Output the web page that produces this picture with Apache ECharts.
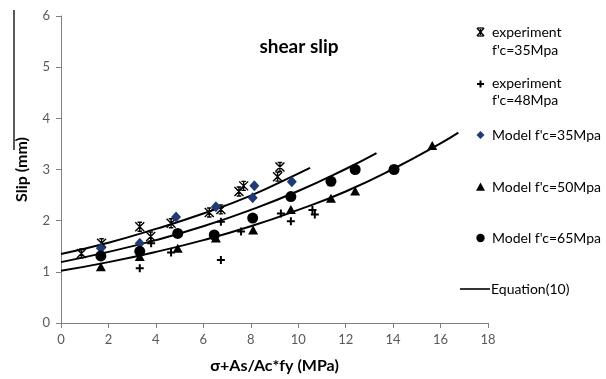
<!DOCTYPE html>
<html>
<head>
<meta charset="utf-8">
<script src="https://cdn.jsdelivr.net/npm/echarts@6/dist/echarts.min.js"></script>
<style>
  html, body { margin: 0; padding: 0; background: #fff; }
  #chart { width: 606px; height: 379px; }
</style>
</head>
<body>
<div id="chart"></div>
<script>
// Measured slip values: [stress term (MPa), slip (mm)]
const expF35 = [[0.86,1.36],[1.71,1.56],[3.32,1.88],[3.78,1.69],[4.64,1.95],[6.25,2.16],[6.74,2.22],[7.5,2.57],[7.7,2.68],[9.13,2.86],[9.23,3.05]];
const expF48 = [[3.32,1.07],[3.8,1.56],[4.64,1.38],[6.74,1.98],[6.74,1.23],[7.59,1.79],[9.27,2.14],[9.69,1.99],[10.6,2.21],[10.7,2.12]];

// Model predictions
const modelF35 = [[1.68,1.46],[3.32,1.56],[4.85,2.07],[6.53,2.27],[8.08,2.45],[8.15,2.68],[9.73,2.76]];
const modelF50 = [[1.68,1.10],[3.32,1.30],[4.92,1.46],[6.53,1.66],[8.1,1.82],[9.69,2.22],[11.38,2.44],[12.4,2.58],[15.65,3.47]];
const modelF65 = [[1.68,1.31],[3.32,1.40],[4.92,1.75],[6.46,1.72],[8.08,2.05],[9.69,2.47],[11.38,2.77],[12.4,3.0],[14.04,3.0]];

// Equation (10) curves, one per concrete strength
const eqCurveA = [[0,1.35],[2,1.57],[4,1.84],[6,2.14],[8,2.49],[10,2.92],[10.5,3.03]];
const eqCurveB = [[0,1.19],[2,1.39],[4,1.62],[6,1.89],[8,2.21],[10,2.58],[12,3.01],[13.3,3.32]];
const eqCurveC = [[0,1.02],[2,1.19],[4,1.39],[6,1.62],[8,1.89],[10,2.21],[12,2.57],[14,3.01],[16,3.51],[16.75,3.72]];

// Axis ranges / ticks
const xMin = 0, xMax = 18, xStep = 2;
const yMin = 0, yMax = 6, yStep = 1;

const chartTitle = 'shear slip';
const xName = 'σ+As/Ac*fy (MPa)';
const yName = 'Slip (mm)';
const legendLabels = [
  ['experiment', "f'c=35Mpa"],
  ['experiment', "f'c=48Mpa"],
  ["Model f'c=35Mpa"],
  ["Model f'c=50Mpa"],
  ["Model f'c=65Mpa"],
  ['Equation(10)']
];

const FONT = 'Lato, "Open Sans", sans-serif';
const STAR = 'path://M0,0L10,10M10,0L0,10M5,0L5,10M2.5,0L7.5,0M2.5,10L7.5,10';
const CROSS = 'path://M3,0H5V3H8V5H5V8H3V5H0V3H3Z';
const NAVY = '#1f3b73';

function curve(name, data) {
  return {
    name: name, type: 'line', data: data, smooth: true, symbol: 'none',
    lineStyle: { color: '#000', width: 2 }, z: 3, silent: true
  };
}

const chart = echarts.init(document.getElementById('chart'), null, { renderer: 'canvas' });

// legend drawn on the right, aligned as in the report figure
const lgX = 480.5, lgTextX = 492;
const lgText = (x, y, s) => ({
  type: 'text', x: x, y: y,
  style: { text: s, fill: '#000', font: '14px ' + FONT, textVerticalAlign: 'middle', verticalAlign: 'middle' }
});
const seg = (x1, y1, x2, y2, w) => ({
  type: 'line', shape: { x1: x1, y1: y1, x2: x2, y2: y2 }, style: { stroke: '#000', lineWidth: w }
});
const legendGraphics = [
  seg(lgX - 3.5, 28, lgX + 3.5, 36, 1.5), seg(lgX + 3.5, 28, lgX - 3.5, 36, 1.5),
  seg(lgX, 29, lgX, 35, 1.2), seg(lgX - 3, 28, lgX + 3, 28, 1.3), seg(lgX - 3, 36, lgX + 3, 36, 1.3),
  lgText(lgTextX, 32, legendLabels[0][0]), lgText(lgTextX, 50, legendLabels[0][1]),
  { type: 'polygon', shape: { points: [[-1,-3.5],[1,-3.5],[1,-1],[3.5,-1],[3.5,1],[1,1],[1,3.5],[-1,3.5],[-1,1],[-3.5,1],[-3.5,-1],[-1,-1]] },
    x: lgX, y: 84, style: { fill: '#000' } },
  lgText(lgTextX, 83, legendLabels[1][0]), lgText(lgTextX, 100, legendLabels[1][1]),
  { type: 'polygon', shape: { points: [[0,-4],[4,0],[0,4],[-4,0]] }, x: lgX, y: 135, style: { fill: NAVY } },
  lgText(lgTextX, 135, legendLabels[2][0]),
  { type: 'polygon', shape: { points: [[0,-4.5],[4.5,3.8],[-4.5,3.8]] }, x: lgX, y: 187, style: { fill: '#000' } },
  lgText(lgTextX, 187, legendLabels[3][0]),
  { type: 'circle', shape: { cx: 0, cy: 0, r: 4.2 }, x: lgX, y: 238, style: { fill: '#000' } },
  lgText(lgTextX, 238, legendLabels[4][0]),
  seg(460, 289, 490, 289, 1.6),
  lgText(491, 289, legendLabels[5][0]),
  // stray rule at the left edge of the figure
  seg(14, 10, 14, 150, 1.3)
];

chart.setOption({
  animation: false,
  backgroundColor: '#fff',
  title: {
    text: chartTitle, left: 294, top: 32, textAlign: 'center',
    textStyle: { fontFamily: FONT, fontSize: 19, fontWeight: 'bold', color: '#000' }
  },
  grid: { left: 61, top: 16, width: 427, height: 307, containLabel: false },
  xAxis: {
    type: 'value', min: xMin, max: xMax, interval: xStep,
    name: xName, nameLocation: 'middle', nameGap: 35,
    nameTextStyle: { fontFamily: FONT, fontSize: 16, fontWeight: 'bold', color: '#000' },
    axisLine: { show: true, onZero: false, lineStyle: { color: '#7f7f7f', width: 1 } },
    axisTick: { show: true, length: 5, lineStyle: { color: '#7f7f7f' } },
    axisLabel: { fontFamily: FONT, fontSize: 13, color: '#595959', margin: 10 },
    splitLine: { show: false }
  },
  yAxis: {
    type: 'value', min: yMin, max: yMax, interval: yStep,
    name: yName, nameLocation: 'middle', nameGap: 31, nameRotate: 90,
    nameTextStyle: { fontFamily: FONT, fontSize: 16, fontWeight: 'bold', color: '#000' },
    axisLine: { show: true, onZero: false, lineStyle: { color: '#7f7f7f', width: 1 } },
    axisTick: { show: true, length: 5, lineStyle: { color: '#7f7f7f' } },
    axisLabel: { fontFamily: FONT, fontSize: 13, color: '#595959', margin: 11 },
    splitLine: { show: false }
  },
  graphic: legendGraphics,
  series: [
    { name: "experiment f'c=35Mpa", type: 'scatter', data: expF35, symbol: STAR, symbolSize: 9,
      itemStyle: { color: 'rgba(0,0,0,0)', borderColor: '#000', borderWidth: 1.4, opacity: 1 }, z: 4 },
    { name: "experiment f'c=48Mpa", type: 'scatter', data: expF48, symbol: CROSS, symbolSize: 8,
      itemStyle: { color: '#000', opacity: 1 }, z: 4 },
    { name: "Model f'c=35Mpa", type: 'scatter', data: modelF35, symbol: 'diamond', symbolSize: [10, 11],
      itemStyle: { color: NAVY, opacity: 1 }, z: 4 },
    { name: "Model f'c=50Mpa", type: 'scatter', data: modelF50, symbol: 'triangle', symbolSize: [10, 9],
      itemStyle: { color: '#000', opacity: 1 }, z: 4 },
    { name: "Model f'c=65Mpa", type: 'scatter', data: modelF65, symbol: 'circle', symbolSize: 11,
      itemStyle: { color: '#000', opacity: 1 }, z: 4 },
    curve('Equation(10)', eqCurveA),
    curve('Equation(10) b', eqCurveB),
    curve('Equation(10) c', eqCurveC)
  ]
});
</script>
</body>
</html>
